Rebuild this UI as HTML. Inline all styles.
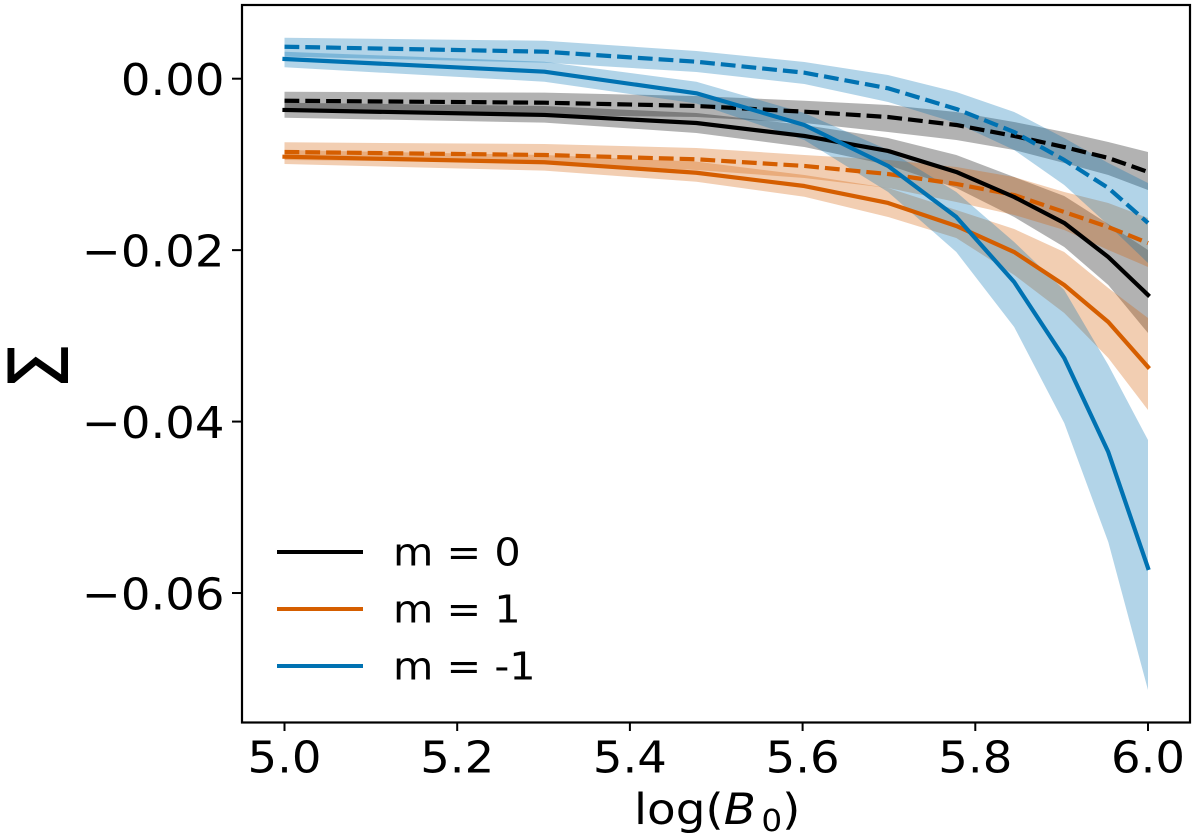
<!DOCTYPE html>
<html lang="en">
<head>
<meta charset="utf-8">
<title>Sigma versus log(B0)</title>
<style>
html,body{margin:0;padding:0;background:#fff;}
svg{display:block;}
text{font-family:"DejaVu Sans","Liberation Sans",sans-serif;fill:#000;}
</style>
</head>
<body>
<svg id="chart" xmlns="http://www.w3.org/2000/svg" width="1200" height="838" viewBox="0 0 1200 838">
  <rect x="0" y="0" width="1200" height="838" fill="#fff"/>
  <g id="bands"></g>
  <g id="lines"></g>
  <rect x="242" y="5" width="948" height="717.5" fill="none" stroke="#000" stroke-width="2.2"/>
  <g id="xticks"></g>
  <g id="yticks"></g>
  <text transform="translate(634 824) scale(1.09 1)" font-size="43">log(<tspan font-style="italic">B</tspan><tspan font-size="30" dy="7" dx="5">0</tspan><tspan dy="-7" dx="0">)</tspan></text>
  <text transform="translate(68 366.5) scale(1.09 1) rotate(-90)" font-size="76" text-anchor="middle">Σ</text>
  <g id="legend"></g>
</svg>
<script>
const xValues = [5.0, 5.301, 5.477, 5.602, 5.699, 5.778, 5.845, 5.903, 5.954, 6.0];
const xTickValues = [5.0, 5.2, 5.4, 5.6, 5.8, 6.0];
const xTickLabels = ['5.0', '5.2', '5.4', '5.6', '5.8', '6.0'];
const yTickValues = [0, -0.02, -0.04, -0.06];
const yTickLabels = ['0.00', '\u22120.02', '\u22120.04', '\u22120.06'];

const blackDashMean = [-0.00257, -0.0028, -0.00318, -0.00385, -0.00447, -0.0054, -0.00668, -0.00797, -0.00925, -0.01088];
const blackDashUpper = [-0.00152, -0.00163, -0.00202, -0.00257, -0.00307, -0.00388, -0.00505, -0.00622, -0.00738, -0.00855];
const blackDashLower = [-0.00365, -0.00423, -0.00447, -0.00517, -0.00622, -0.00715, -0.00832, -0.00983, -0.01123, -0.01298];

const blackSolidMean = [-0.00365, -0.00423, -0.00517, -0.00668, -0.00843, -0.01088, -0.0138, -0.01683, -0.0208, -0.02523];
const blackSolidUpper = [-0.0028, -0.00318, -0.004, -0.0054, -0.00692, -0.0089, -0.01147, -0.01368, -0.01695, -0.01998];
const blackSolidLower = [-0.00455, -0.00513, -0.00633, -0.00797, -0.01007, -0.01275, -0.01613, -0.01963, -0.02407, -0.02967];

const orangeDashMean = [-0.00855, -0.0089, -0.0094, -0.01018, -0.01112, -0.01228, -0.01357, -0.01555, -0.0173, -0.01917];
const orangeDashUpper = [-0.00742, -0.00762, -0.00808, -0.0089, -0.00948, -0.0103, -0.01147, -0.01322, -0.0145, -0.01625];
const orangeDashLower = [-0.00948, -0.0098, -0.01065, -0.01158, -0.01275, -0.01438, -0.0159, -0.01765, -0.01998, -0.02197];

const orangeSolidMean = [-0.0091, -0.00975, -0.01097, -0.01252, -0.0145, -0.01718, -0.02022, -0.02407, -0.02838, -0.03363];
const orangeSolidUpper = [-0.00832, -0.0089, -0.00968, -0.01123, -0.01275, -0.01532, -0.01753, -0.02022, -0.02442, -0.02792];
const orangeSolidLower = [-0.00995, -0.01073, -0.01202, -0.01377, -0.01613, -0.01858, -0.0229, -0.02733, -0.03258, -0.03865];

const blueDashMean = [0.00373, 0.00315, 0.00198, 0.0007, -0.00112, -0.00353, -0.00622, -0.00948, -0.01275, -0.01683];
const blueDashUpper = [0.00478, 0.00443, 0.00323, 0.00195, 0.00043, -0.00155, -0.00388, -0.00692, -0.00983, -0.01217];
const blueDashLower = [0.00257, 0.00187, 0.00078, -0.00062, -0.00272, -0.00517, -0.00832, -0.0124, -0.01707, -0.0215];

const blueSolidMean = [0.0023, 0.00082, -0.0017, -0.0054, -0.01018, -0.01613, -0.02372, -0.03258, -0.04355, -0.05708];
const blueSolidUpper = [0.00315, 0.00198, -0.00035, -0.004, -0.00832, -0.01322, -0.01905, -0.02465, -0.0334, -0.04215];
const blueSolidLower = [0.00133, -0.00035, -0.00289, -0.00715, -0.01322, -0.02022, -0.02897, -0.04017, -0.05405, -0.07131];

const legendLabels = ['m = 0', 'm = 1', 'm = -1'];
const seriesColors = ['#000000', '#D55E00', '#0072B2'];

const SVG_NS = 'http://www.w3.org/2000/svg';
function xScale(v) { return 284.5 + (v - 5) * 863.5; }
function yScale(v) { return 78.7 - v * 8572; }
function make(tag, attrs, parent) {
  const el = document.createElementNS(SVG_NS, tag);
  for (const k in attrs) el.setAttribute(k, attrs[k]);
  parent.appendChild(el);
  return el;
}
function pts(values) {
  return values.map((v, i) => xScale(xValues[i]).toFixed(2) + ',' + yScale(v).toFixed(2));
}

const bandsGroup = document.getElementById('bands');
const linesGroup = document.getElementById('lines');
const xTickGroup = document.getElementById('xticks');
const yTickGroup = document.getElementById('yticks');
const legendGroup = document.getElementById('legend');

const bandDefs = [
  ['black-dashed-band', seriesColors[0], blackDashUpper, blackDashLower],
  ['black-solid-band', seriesColors[0], blackSolidUpper, blackSolidLower],
  ['orange-dashed-band', seriesColors[1], orangeDashUpper, orangeDashLower],
  ['orange-solid-band', seriesColors[1], orangeSolidUpper, orangeSolidLower],
  ['blue-dashed-band', seriesColors[2], blueDashUpper, blueDashLower],
  ['blue-solid-band', seriesColors[2], blueSolidUpper, blueSolidLower]
];
bandDefs.forEach(function (d) {
  const poly = make('polygon', {
    points: pts(d[2]).concat(pts(d[3]).reverse()).join(' '),
    fill: d[1],
    'fill-opacity': 0.3,
    stroke: 'none'
  }, bandsGroup);
  
  
});

const lineDefs = [
  ['black-dashed-line', seriesColors[0], blackDashMean, true],
  ['orange-dashed-line', seriesColors[1], orangeDashMean, true],
  ['blue-dashed-line', seriesColors[2], blueDashMean, true],
  ['black-solid-line', seriesColors[0], blackSolidMean, false],
  ['orange-solid-line', seriesColors[1], orangeSolidMean, false],
  ['blue-solid-line', seriesColors[2], blueSolidMean, false]
];
lineDefs.forEach(function (d) {
  const line = make('polyline', {
    points: pts(d[2]).join(' '),
    fill: 'none',
    stroke: d[1],
    'stroke-width': 4.2,
    'stroke-linejoin': 'round',
    'stroke-linecap': d[3] ? 'butt' : 'square'
  }, linesGroup);
  if (d[3]) line.setAttribute('stroke-dasharray', '14.8 6');
  
  
});

xTickValues.forEach(function (v, i) {
  const px = xScale(v);
  const tick = make('line', { x1: px, x2: px, y1: 723, y2: 731, stroke: '#000', 'stroke-width': 2 }, xTickGroup);
  
  
  const label = make('text', { transform: 'translate(' + px + ' 772.5) scale(1.07 1)', 'font-size': 43.5, 'text-anchor': 'middle' }, xTickGroup);
  label.textContent = xTickLabels[i];
  
  
});

yTickValues.forEach(function (v, i) {
  const py = yScale(v);
  const tick = make('line', { x1: 232, x2: 241, y1: py, y2: py, stroke: '#000', 'stroke-width': 2 }, yTickGroup);
  
  
  const label = make('text', { transform: 'translate(224.5 ' + (py + 16.5) + ') scale(1.07 1)', 'font-size': 43.5, 'text-anchor': 'end' }, yTickGroup);
  label.textContent = yTickLabels[i];
  
  
});

legendLabels.forEach(function (t, i) {
  const ly = 552 + i * 57;
  const swatch = make('line', { x1: 277, x2: 363, y1: ly, y2: ly, stroke: seriesColors[i], 'stroke-width': 4 }, legendGroup);
  
  
  const label = make('text', { transform: 'translate(393 ' + (ly + 13.5) + ') scale(1.09 1)', 'font-size': 38 }, legendGroup);
  label.textContent = t;
  
  
});
</script>
</body>
</html>
